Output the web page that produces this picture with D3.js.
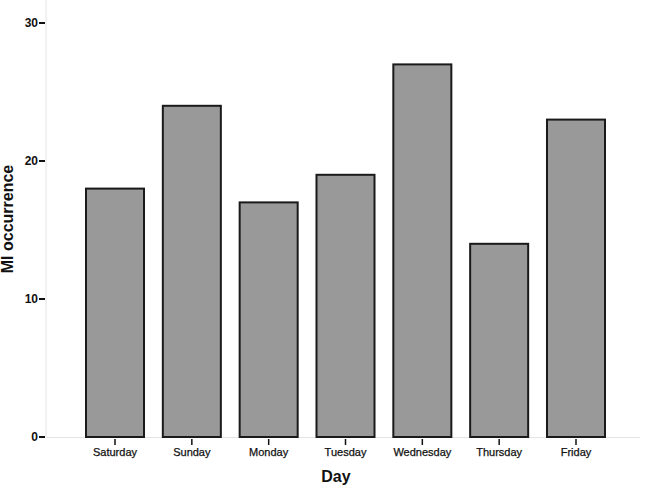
<!DOCTYPE html>
<html>
<head>
<meta charset="utf-8">
<script src="https://cdn.jsdelivr.net/npm/d3@7"></script>
<style>
  body { margin: 0; background: #fff; }
  svg { display: block; font-family: "Liberation Sans", Arial, sans-serif; }
</style>
</head>
<body>
<svg width="645" height="487"></svg>
<script>
var days = ["Saturday", "Sunday", "Monday", "Tuesday", "Wednesday", "Thursday", "Friday"];
var counts = [18, 24, 17, 19, 27, 14, 23];
var yTicks = [0, 10, 20, 30];

var svg = d3.select("svg");
var axisX = 46, baseY = 437;

var x = d3.scaleBand().domain(days).range([86, 605]).paddingInner(0.245);
var y = d3.scaleLinear().domain([0, 30]).range([baseY, 23]);

// axis lines
svg.append("line")
    .attr("x1", axisX).attr("x2", axisX)
    .attr("y1", 0).attr("y2", baseY)
    .attr("stroke", "#e4e4e4").attr("stroke-width", 1);
svg.append("line")
    .attr("x1", axisX).attr("x2", 640)
    .attr("y1", baseY + 0.5).attr("y2", baseY + 0.5)
    .attr("stroke", "#e4e4e4").attr("stroke-width", 1);

// bars
svg.append("g").selectAll("rect").data(days).enter().append("rect")
    .attr("x", d => x(d))
    .attr("y", (d, i) => y(counts[i]))
    .attr("width", x.bandwidth())
    .attr("height", (d, i) => baseY - y(counts[i]))
    .attr("fill", "#999999")
    .attr("stroke", "#1a1a1a")
    .attr("stroke-width", 2);

// y axis ticks
var yg = svg.append("g");
yg.selectAll("line").data(yTicks).enter().append("line")
    .attr("x1", axisX - 7).attr("x2", axisX - 1)
    .attr("y1", d => y(d)).attr("y2", d => y(d))
    .attr("stroke", "#111").attr("stroke-width", 2);
yg.selectAll("text").data(yTicks).enter().append("text")
    .attr("x", axisX - 8).attr("y", d => y(d))
    .attr("dy", "0.35em")
    .attr("text-anchor", "end")
    .attr("font-size", 12).attr("font-weight", "bold")
    .attr("fill", "#111")
    .text(d => d);

// x axis ticks
var xg = svg.append("g");
xg.selectAll("line").data(days).enter().append("line")
    .attr("x1", d => x(d) + x.bandwidth() / 2).attr("x2", d => x(d) + x.bandwidth() / 2)
    .attr("y1", baseY + 2).attr("y2", baseY + 8)
    .attr("stroke", "#111").attr("stroke-width", 1.5);
xg.selectAll("text").data(days).enter().append("text")
    .attr("x", d => x(d) + x.bandwidth() / 2).attr("y", baseY + 19)
    .attr("text-anchor", "middle")
    .attr("font-size", 11)
    .attr("stroke", "#111").attr("stroke-width", 0.25)
    .attr("fill", "#111")
    .text(d => d);

// axis titles
svg.append("text")
    .attr("x", 336).attr("y", 482)
    .attr("text-anchor", "middle")
    .attr("font-size", 16).attr("font-weight", "bold")
    .attr("fill", "#111")
    .text("Day");
svg.append("text")
    .attr("transform", "translate(13,219) rotate(-90)")
    .attr("text-anchor", "middle")
    .attr("font-size", 16).attr("font-weight", "bold")
    .attr("fill", "#111")
    .text("MI occurrence");
</script>
</body>
</html>
